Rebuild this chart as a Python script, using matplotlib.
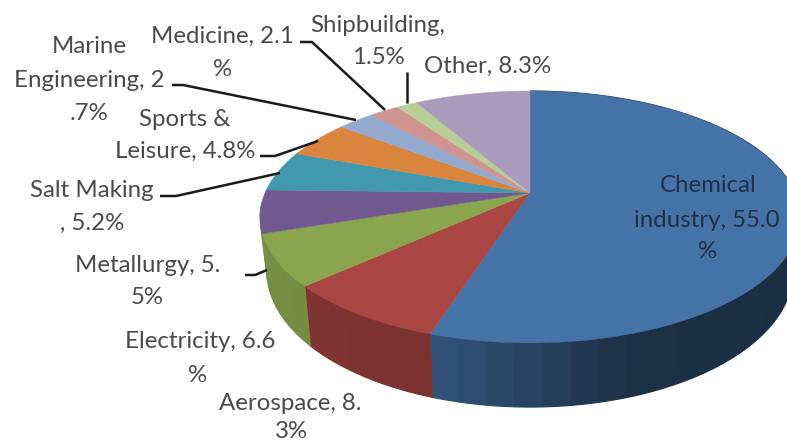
import numpy as np
import matplotlib
matplotlib.use("Agg")
import matplotlib.pyplot as plt

# sanayi dallari ve paylari (%)
names = ["Chemical industry", "Aerospace", "Electricity", "Metallurgy", "Salt Making",
         "Sports & Leisure", "Marine Engineering", "Medicine", "Shipbuilding", "Other"]
shares = [55.0, 8.3, 6.6, 5.5, 5.2, 4.8, 2.7, 2.1, 1.5, 8.3]
colors = ["#4573a7", "#aa4643", "#89a54e", "#71588f", "#4198af",
          "#db843d", "#93a9cf", "#d19392", "#b9cd96", "#a99bbd"]

# etiket satirlari: metin, x, y
label_lines = [
    ("Chemical", 708, 186), ("industry, 55.0", 707, 220), ("%", 708, 251),
    ("Aerospace, 8.", 290, 403), ("3%", 291, 432),
    ("Electricity, 6.6", 200, 342), ("%", 198, 375),
    ("Metallurgy, 5.", 148, 266), ("5%", 147, 298),
    ("Salt Making", 92, 190), (", 5.2%", 92, 223),
    ("Sports &", 185, 119), ("Leisure, 4.8%", 185, 151),
    ("Marine", 89, 46), ("Engineering, 2", 89, 80), (".7%", 89, 113),
    ("Medicine, 2.1", 222, 36), ("%", 223, 69),
    ("Shipbuilding,", 378, 25), ("1.5%", 378, 57),
    ("Other, 8.3%", 488, 66),
]

# kilavuz cizgileri
leaders = [
    [(407, 72), (407, 103)],
    [(300, 42), (312, 42), (385, 110)],
    [(172, 85), (183, 85), (356, 120)],
    [(260, 156), (275, 156), (318, 141)],
    [(160, 196), (176, 196), (280, 173)],
    [(245, 275), (255, 275), (267, 270)],
]

cx, cy = 530, 193
k = 0.19       # perspektif
bx, ay = 265, 121.4
depth = 52
n_side = 3     # sadece ilk uc dilimin yan yuzu gorunuyor


def project(theta):
    # theta: derece, saat yonunun tersine, +x ekseninden
    t = np.radians(theta)
    w = 1 + k * np.sin(t)
    return cx + bx * np.cos(t) / w, cy - ay * np.sin(t) / w, w


def side_shade(x):
    return np.interp(x - cx, [-270, -226, -224, -100, 0, 100, 270],
                     [0.87, 0.85, 0.75, 0.72, 0.58, 0.42, 0.40])


fig = plt.figure(figsize=(7.87, 4.43), dpi=100)
ax = fig.add_axes([0, 0, 1, 1])

wedges, _ = ax.pie(shares, startangle=90, counterclock=False, colors=colors)
angles = [(w.theta1, w.theta2) for w in wedges]
for w in wedges:
    w.remove()

# yan yuzey: seritler halinde, gittikce koyulasan renk
for i in range(n_side):
    t1, t2 = angles[i]
    if i == n_side - 1:
        t1 = t1 - 14   # sol kenara kadar uzat
    n = max(1, int((t2 - t1) / 5))
    edges = np.linspace(t1, t2, n + 1)
    base = np.array(matplotlib.colors.to_rgb(colors[i]))
    for a, b in zip(edges[:-1], edges[1:]):
        th = np.linspace(a, b, 6)
        x, y, w = project(th)
        x2 = cx + (x - cx) * 0.975
        y2 = y + depth / w
        col = base * side_shade(x.mean())
        ax.fill(np.r_[x, x2[::-1]], np.r_[y, y2[::-1]], color=col, lw=0.8, zorder=2)

# ust yuzey
for (t1, t2), c in zip(angles, colors):
    th = np.linspace(t1, t2, 200)
    x, y, w = project(th)
    ax.fill(np.r_[cx, x], np.r_[cy, y], color=c, lw=0.3, zorder=3)

for pts in leaders:
    xs, ys = zip(*pts)
    ax.plot(xs, ys, color="#1a1a1a", lw=1.8, zorder=4, solid_capstyle="butt")

for i, (txt, x, y) in enumerate(label_lines):
    col = "#1f3048" if i < 3 else "#4a4a4a"
    ax.text(x, y, txt, ha="center", va="center", fontsize=17.3, family="Lato", color=col, zorder=5)

ax.set_aspect("auto")
ax.set_xlim(0, 787)
ax.set_ylim(443, 0)
ax.axis("off")
fig.savefig("out.png", dpi=100)
